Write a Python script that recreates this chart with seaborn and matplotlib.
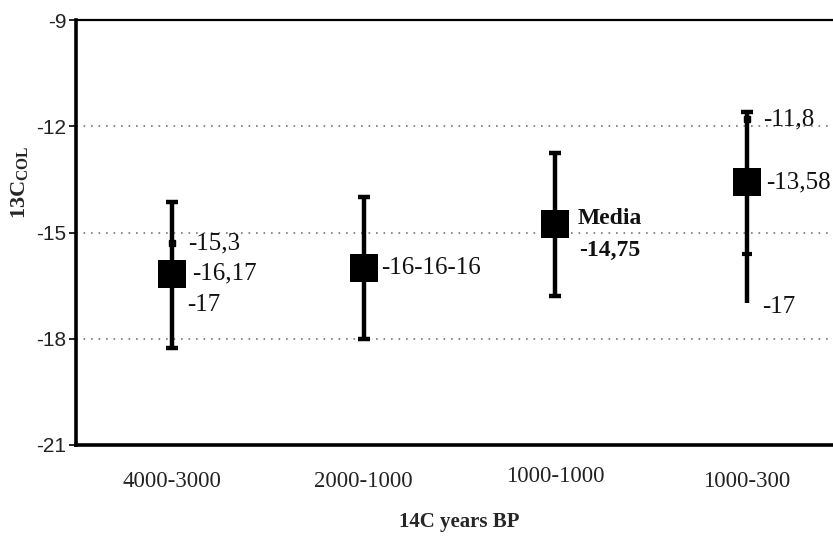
import numpy as np
import pandas as pd
import matplotlib.pyplot as plt
import matplotlib.transforms as mtransforms
import seaborn as sns

# values
categories = ["4000-3000", "2000-1000", "1000-1000", "1000-300"]
means = [-16.17, -16.0, -14.75, -13.58]
upper = [-14.15, -14.0, -12.75, -11.6]
lower = [-18.25, -18.0, -16.8, -17.0]
bottom_cap = [True, True, True, False]

# small extra marks on the whiskers
dot_x = [0, 3]
dot_y = [-15.3, -11.8]
tick_x = [3]
tick_y = [-15.6]

# value labels: (category index, y value, text)
label_idx = [0, 0, 0, 1, 2, 2, 3, 3, 3]
label_y = [-15.3, -16.17, -17.05, -16.0, -14.6, -15.5, -11.8, -13.58, -17.1]
label_txt = ["-15,3", "-16,17", "-17", "-16-16-16", "Media", "-14,75",
             "-11,8", "-13,58", "-17"]
label_dx = [16, 20, 15, 17, 22, 24, 16, 19, 15]
label_bold = [False, False, False, False, True, True, False, False, False]

yticks = [-9, -12, -15, -18, -21]

sns.set_style("white")
plt.rcParams["mathtext.fontset"] = "custom"
plt.rcParams["mathtext.rm"] = "Liberation Serif"
plt.rcParams["mathtext.bf"] = "Liberation Serif:bold"

fig = plt.figure(figsize=(8.33, 5.4), dpi=100)
ax = fig.add_axes([76 / 833, 95 / 540, 767 / 833, 425 / 540])

df = pd.DataFrame({"x": np.arange(len(categories)), "mean": means,
                   "upper": upper, "lower": lower})

# whiskers
ax.vlines(df["x"], df["lower"], df["upper"], color="black", lw=3.2, zorder=3)
ax.plot(df["x"], df["upper"], ls="none", marker="_", ms=8.5, mew=3.2,
        color="black", zorder=3)
bc = df[bottom_cap]
ax.plot(bc["x"], bc["lower"], ls="none", marker="_", ms=8.5, mew=3.2,
        color="black", zorder=3)
ax.plot(tick_x, tick_y, ls="none", marker="_", ms=7, mew=3,
        color="black", zorder=3)
ax.plot(dot_x, dot_y, ls="none", marker="s", ms=5, color="black", zorder=3)

# mean squares
sns.scatterplot(data=df, x="x", y="mean", marker="s", s=400, color="black",
                edgecolor="none", ax=ax, zorder=4, legend=False)

for i, y, t, dx, b in zip(label_idx, label_y, label_txt, label_dx, label_bold):
    ax.annotate(t, (i, y), xytext=(dx, 0), textcoords="offset pixels",
                ha="left", va="center", fontsize=18 if not b else 17,
                family="Liberation Serif", color="#111111",
                fontweight="bold" if b else "normal")

ax.set_xlim(-0.5, 3.5)
ax.set_ylim(-21, -9)
ax.set_yticks(yticks)
ax.set_yticklabels([str(v) for v in yticks], family="Liberation Sans",
                   fontsize=15)
ax.set_xticks(df["x"])
ax.set_xticklabels(categories, family="Liberation Serif", fontsize=16.5)
ax.tick_params(axis="x", length=0, pad=19)
ax.tick_params(axis="y", direction="out", length=5, width=1.2, pad=2,
               left=True, colors="black")
for lab in ax.get_yticklabels():
    lab.set_color("#222222")
for lab in ax.get_xticklabels():
    lab.set_color("#222222")

# 1000-1000 label sits a bit higher
lab = ax.get_xticklabels()[2]
lab.set_transform(lab.get_transform() +
                  mtransforms.ScaledTranslation(0, 5 / 100, fig.dpi_scale_trans))

for yv in [-12, -15, -18]:
    ax.axhline(yv, color="#777777", lw=1.2, ls=(0, (1, 3.5)), zorder=1)

ax.spines["left"].set_linewidth(2.6)
ax.spines["bottom"].set_linewidth(2.6)
ax.spines["top"].set_linewidth(1.6)
ax.spines["right"].set_visible(False)
for s in ax.spines.values():
    s.set_color("black")

ax.set_xlabel("14C years BP", family="Liberation Serif", fontweight="bold",
              fontsize=15, labelpad=14)
ax.set_ylabel("")
fig.text(19 / 833, 1 - 182 / 540, r"$\mathbf{13C_{COL}}$", rotation=90,
         ha="center", va="center", fontsize=16)

fig.savefig("out.png", dpi=100)
